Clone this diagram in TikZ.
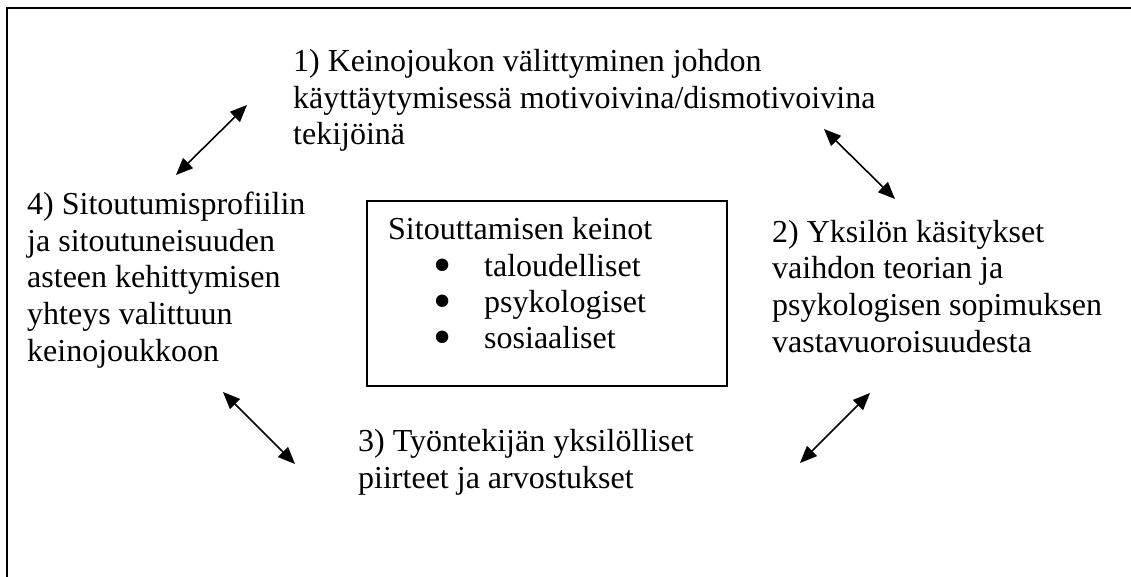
\documentclass[tikz,border=0pt]{standalone}
\usepackage{fontspec}
\setmainfont{Liberation Serif}
\usetikzlibrary{arrows.meta}
\begin{document}
\begin{tikzpicture}[x=1pt,y=-1pt,
  txt/.style={anchor=base west,inner sep=0pt,align=left,font=\fontsize{32}{36.6}\selectfont},
  bul/.style={anchor=center,inner sep=0pt,font=\fontsize{52}{52}\selectfont},
  dbl/.style={line width=1.6pt,{Triangle[length=17pt,width=14pt]}-{Triangle[length=17pt,width=14pt]}},
  frame/.style={line width=2pt}]
\useasboundingbox (0,0) rectangle (1131,577);
\draw[frame] (7,577) -- (7,8) -- (1131,8);
\draw[line width=1.6pt] (367,201) rectangle (727,386);
% anchors are at the baseline of the last line
\node[txt] (t1) at (293,145) {1) Keinojoukon välittyminen johdon\\käyttäytymisessä motivoivina/dismotivoivina\\tekijöinä};
\node[txt] (t4) at (27,361) {4) Sitoutumisprofiilin\\ja sitoutuneisuuden\\asteen kehittymisen\\yhteys valittuun\\keinojoukkoon};
\node[txt] (t2) at (772,352) {2) Yksilön käsitykset\\vaihdon teorian ja\\psykologisen sopimuksen\\vastavuoroisuudesta};
\node[txt] (t3) at (358,488) {3) Työntekijän yksilölliset\\piirteet ja arvostukset};
\node[txt] (k) at (388,240) {Sitouttamisen keinot};
\node[bul] (b1) at (443,271) {\textbullet};
\node[bul] (b2) at (443,307) {\textbullet};
\node[bul] (b3) at (443,343) {\textbullet};
\node[txt] (k1) at (484,276) {taloudelliset};
\node[txt] (k2) at (484,312) {psykologiset};
\node[txt] (k3) at (484,348) {sosiaaliset};
\coordinate (a1s) at (176,175); \coordinate (a1e) at (247,105);
\coordinate (a2s) at (824,129); \coordinate (a2e) at (895,199);
\coordinate (a3s) at (223,392); \coordinate (a3e) at (295,464);
\coordinate (a4s) at (870,393); \coordinate (a4e) at (800,463);
\draw[dbl] (a1s) -- (a1e);
\draw[dbl] (a2s) -- (a2e);
\draw[dbl] (a3s) -- (a3e);
\draw[dbl] (a4s) -- (a4e);
\end{tikzpicture}
\end{document}
